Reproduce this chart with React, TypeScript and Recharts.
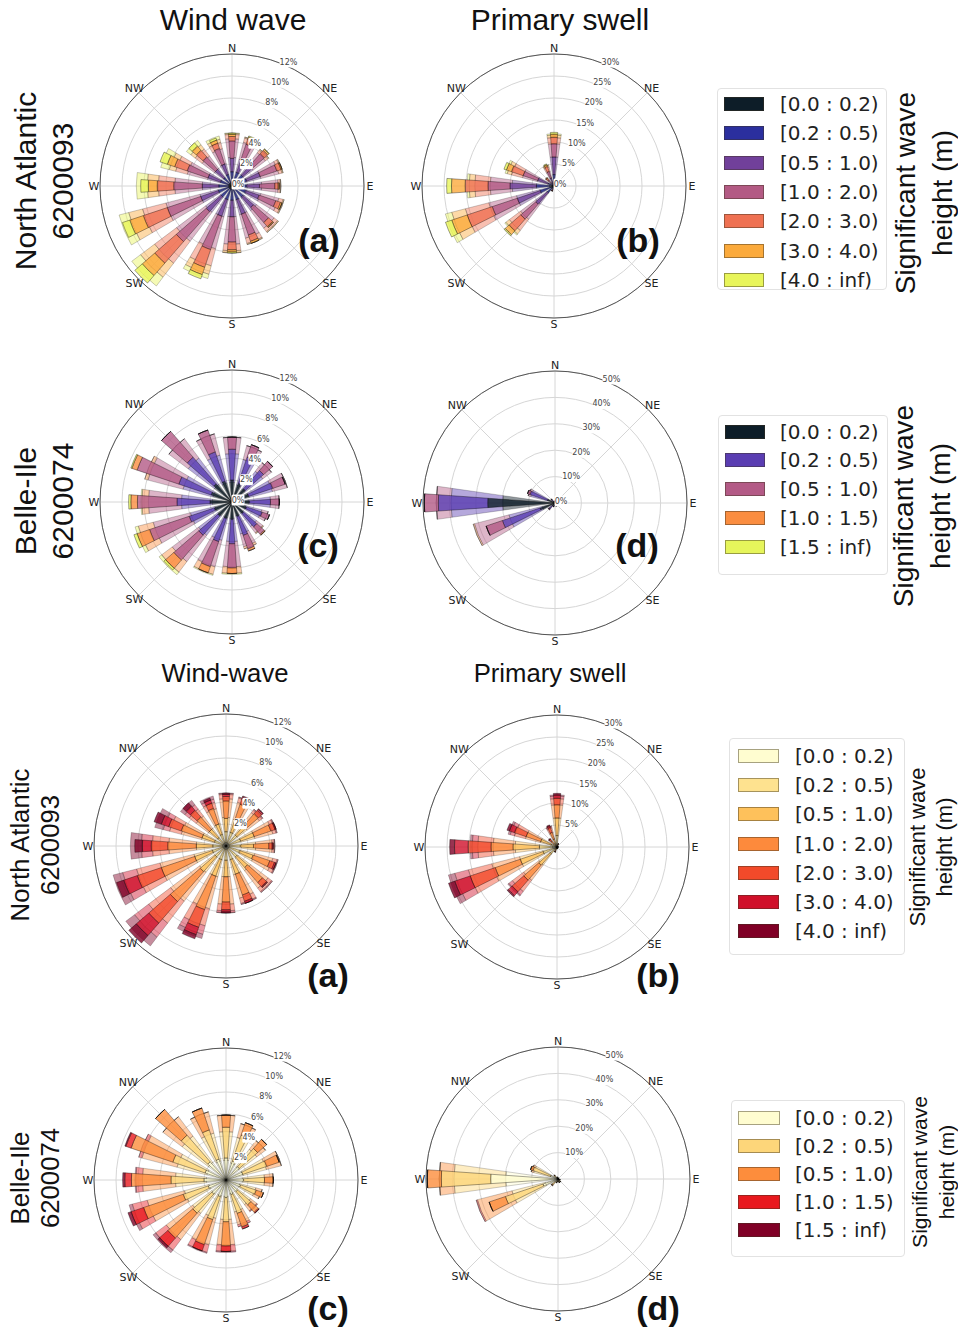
import React from "react";
import {
  PolarAngleAxis,
  PolarGrid,
  PolarRadiusAxis,
  RadialBar,
  RadialBarChart,
} from "recharts";

// 16 direction sectors, clockwise from north
const directions = ["N", "NNE", "NE", "ENE", "E", "ESE", "SE", "SSE", "S", "SSW", "SW", "WSW", "W", "WNW", "NW", "NNW"];
const compass = ["N", "NE", "E", "SE", "S", "SW", "W", "NW"];

const bins7 = ["[0.0 : 0.2)", "[0.2 : 0.5)", "[0.5 : 1.0)", "[1.0 : 2.0)", "[2.0 : 3.0)", "[3.0 : 4.0)", "[4.0 : inf)"];
const bins5 = ["[0.0 : 0.2)", "[0.2 : 0.5)", "[0.5 : 1.0)", "[1.0 : 1.5)", "[1.5 : inf)"];

const topColors7 = ["#0d1d28", "#2b2f9e", "#71409a", "#b35a84", "#ef7152", "#fbaa3c", "#e8f55a"];
const topColors5 = ["#0d1d28", "#5a3db2", "#b35a86", "#fa8d40", "#e6f55b"];
const bottomColors7 = ["#fffdd0", "#fee28f", "#fec15b", "#fd8a3c", "#f24a2a", "#d0102a", "#800026"];
const bottomColors5 = ["#fffdd0", "#fdd67a", "#fd8d3c", "#e8191e", "#800026"];

const ticksWind = [0, 2, 4, 6, 8, 10, 12];
const ticksSwellNA = [0, 5, 10, 15, 20, 25, 30];
const ticksSwellBI = [0, 10, 20, 30, 40, 50];

// frequency (%) per direction, one column per wave height bin
const windNANarrow = [
  [0.3, 1.0, 1.2, 1.6, 0.4, 0.2, 0.1],
  [0.3, 1.0, 1.2, 1.5, 0.5, 0.2, 0.1],
  [0.3, 1.0, 1.2, 1.4, 0.4, 0.15, 0.05],
  [0.3, 1.1, 1.3, 1.6, 0.4, 0.1, 0.0],
  [0.3, 1.0, 1.2, 1.4, 0.3, 0.1, 0.0],
  [0.3, 1.0, 1.3, 1.6, 0.45, 0.15, 0.0],
  [0.3, 1.0, 1.3, 1.8, 0.5, 0.1, 0.0],
  [0.3, 1.0, 1.4, 2.0, 0.6, 0.2, 0.0],
  [0.3, 1.0, 1.5, 2.3, 0.7, 0.2, 0.1],
  [0.3, 1.0, 1.6, 3.2, 1.7, 0.7, 0.4],
  [0.3, 1.0, 1.8, 3.6, 2.6, 1.5, 0.9],
  [0.3, 1.0, 1.7, 3.2, 2.3, 1.3, 0.7],
  [0.3, 0.9, 1.5, 2.6, 1.5, 0.8, 0.7],
  [0.3, 0.8, 1.2, 2.0, 1.2, 0.7, 0.7],
  [0.3, 0.7, 1.0, 1.5, 0.8, 0.5, 0.4],
  [0.3, 0.8, 1.0, 1.5, 0.5, 0.3, 0.2],
];
const windNAWide = [
  [0.3, 1.0, 1.3, 1.7, 0.4, 0.1, 0.05],
  [0.3, 1.0, 1.2, 1.6, 0.4, 0.1, 0.0],
  [0.3, 1.0, 1.1, 1.4, 0.3, 0.1, 0.0],
  [0.3, 1.1, 1.3, 1.7, 0.3, 0.1, 0.0],
  [0.3, 1.1, 1.3, 1.5, 0.2, 0.05, 0.0],
  [0.3, 1.1, 1.3, 1.7, 0.4, 0.1, 0.0],
  [0.3, 1.1, 1.4, 2.0, 0.4, 0.1, 0.0],
  [0.3, 1.0, 1.4, 2.2, 0.5, 0.1, 0.0],
  [0.3, 1.0, 1.5, 2.5, 0.6, 0.2, 0.0],
  [0.3, 1.0, 1.6, 3.0, 1.6, 0.8, 0.4],
  [0.3, 1.0, 1.7, 3.3, 2.5, 1.6, 1.0],
  [0.3, 1.0, 1.7, 3.2, 2.2, 1.3, 0.9],
  [0.3, 0.9, 1.5, 2.5, 1.5, 1.0, 1.0],
  [0.3, 0.8, 1.2, 1.9, 1.1, 0.6, 0.8],
  [0.3, 0.7, 1.0, 1.4, 0.8, 0.5, 0.5],
  [0.3, 0.8, 1.0, 1.4, 0.6, 0.3, 0.3],
];

const swellNANarrow = [
  [0.6, 2.0, 4.0, 3.0, 1.5, 0.7, 0.4],
  [0.1, 0.2, 0.2, 0.2, 0.1, 0.0, 0.0],
  [0.1, 0.1, 0.1, 0.0, 0.0, 0.0, 0.0],
  [0.1, 0.1, 0.0, 0.0, 0.0, 0.0, 0.0],
  [0.1, 0.1, 0.0, 0.0, 0.0, 0.0, 0.0],
  [0.1, 0.1, 0.0, 0.0, 0.0, 0.0, 0.0],
  [0.1, 0.1, 0.1, 0.0, 0.0, 0.0, 0.0],
  [0.1, 0.1, 0.1, 0.0, 0.0, 0.0, 0.0],
  [0.1, 0.1, 0.1, 0.1, 0.0, 0.0, 0.0],
  [0.1, 0.3, 0.4, 0.3, 0.1, 0.0, 0.0],
  [0.5, 1.5, 3.5, 4.5, 3.5, 1.2, 0.3],
  [0.8, 2.5, 5.5, 6.0, 6.0, 3.7, 1.5],
  [1.0, 3.0, 6.0, 5.0, 5.2, 3.1, 1.1],
  [0.4, 1.0, 2.5, 3.5, 2.8, 1.2, 0.6],
  [0.1, 0.3, 0.6, 0.8, 0.5, 0.2, 0.0],
  [0.2, 0.5, 1.2, 1.6, 1.2, 0.4, 0.2],
];
const swellNAWide = [
  [0.6, 2.0, 4.0, 3.0, 1.4, 0.6, 0.3],
  [0.1, 0.2, 0.2, 0.2, 0.1, 0.0, 0.0],
  [0.1, 0.1, 0.1, 0.0, 0.0, 0.0, 0.0],
  [0.1, 0.1, 0.0, 0.0, 0.0, 0.0, 0.0],
  [0.1, 0.1, 0.0, 0.0, 0.0, 0.0, 0.0],
  [0.1, 0.1, 0.0, 0.0, 0.0, 0.0, 0.0],
  [0.1, 0.1, 0.1, 0.0, 0.0, 0.0, 0.0],
  [0.1, 0.1, 0.1, 0.0, 0.0, 0.0, 0.0],
  [0.1, 0.1, 0.1, 0.1, 0.0, 0.0, 0.0],
  [0.1, 0.3, 0.4, 0.3, 0.1, 0.0, 0.0],
  [0.5, 1.5, 3.2, 4.3, 3.2, 1.0, 0.3],
  [0.8, 2.5, 5.5, 6.5, 5.5, 3.2, 1.5],
  [1.0, 3.0, 5.5, 5.0, 3.5, 1.3, 0.5],
  [0.4, 1.0, 2.5, 3.5, 2.6, 1.0, 0.5],
  [0.1, 0.3, 0.6, 0.7, 0.5, 0.2, 0.0],
  [0.2, 0.5, 1.2, 1.5, 1.1, 0.4, 0.1],
];

const windBINarrow = [
  [2.0, 2.8, 1.1, 0.0, 0.0],
  [1.8, 2.5, 1.2, 0.0, 0.0],
  [1.6, 2.2, 1.1, 0.0, 0.0],
  [1.6, 2.3, 1.2, 0.0, 0.0],
  [1.6, 1.9, 0.8, 0.0, 0.0],
  [1.4, 1.5, 0.7, 0.0, 0.0],
  [1.4, 1.6, 0.9, 0.1, 0.0],
  [1.4, 1.8, 1.3, 0.2, 0.0],
  [1.6, 2.2, 2.2, 0.5, 0.0],
  [1.6, 2.2, 2.4, 0.6, 0.0],
  [1.7, 2.3, 3.0, 1.0, 0.2],
  [1.7, 2.4, 3.8, 1.2, 0.3],
  [2.0, 3.0, 3.6, 0.6, 0.2],
  [2.0, 3.1, 4.0, 0.5, 0.1],
  [2.2, 3.2, 3.1, 0.0, 0.0],
  [2.0, 2.8, 2.1, 0.0, 0.0],
];
const windBIWide = [
  [1.8, 2.6, 1.5, 0.0, 0.0],
  [1.6, 2.4, 1.3, 0.0, 0.0],
  [1.5, 2.0, 1.0, 0.0, 0.0],
  [1.6, 2.2, 1.4, 0.0, 0.0],
  [1.5, 2.0, 0.8, 0.0, 0.0],
  [1.3, 1.5, 0.6, 0.0, 0.0],
  [1.3, 1.5, 0.7, 0.1, 0.0],
  [1.3, 1.7, 1.2, 0.2, 0.0],
  [1.5, 2.1, 2.3, 0.6, 0.1],
  [1.5, 2.1, 2.5, 0.7, 0.1],
  [1.6, 2.2, 3.0, 1.2, 0.3],
  [1.6, 2.3, 3.5, 1.4, 0.3],
  [1.8, 2.8, 3.0, 0.6, 0.1],
  [1.8, 2.8, 3.3, 0.3, 0.0],
  [2.0, 3.0, 2.2, 0.0, 0.0],
  [1.8, 2.6, 2.0, 0.0, 0.0],
];

const swellBINarrow = [
  [0.3, 0.2, 0.0, 0.0, 0.0],
  [0.2, 0.1, 0.0, 0.0, 0.0],
  [0.2, 0.1, 0.0, 0.0, 0.0],
  [0.2, 0.1, 0.0, 0.0, 0.0],
  [0.3, 0.1, 0.0, 0.0, 0.0],
  [0.5, 0.3, 0.0, 0.0, 0.0],
  [0.8, 0.6, 0.0, 0.0, 0.0],
  [0.8, 0.6, 0.0, 0.0, 0.0],
  [0.6, 0.4, 0.0, 0.0, 0.0],
  [0.8, 0.6, 0.1, 0.0, 0.0],
  [1.5, 1.5, 0.3, 0.0, 0.0],
  [6.0, 15.0, 6.5, 0.0, 0.0],
  [25.5, 18.7, 5.3, 0.0, 0.0],
  [3.0, 7.0, 1.0, 0.0, 0.0],
  [0.8, 1.0, 0.2, 0.0, 0.0],
  [0.4, 0.3, 0.0, 0.0, 0.0],
];
const swellBIWide = [
  [0.3, 0.2, 0.0, 0.0, 0.0],
  [0.2, 0.1, 0.0, 0.0, 0.0],
  [0.2, 0.1, 0.0, 0.0, 0.0],
  [0.2, 0.1, 0.0, 0.0, 0.0],
  [0.3, 0.1, 0.0, 0.0, 0.0],
  [0.5, 0.3, 0.0, 0.0, 0.0],
  [0.8, 0.5, 0.0, 0.0, 0.0],
  [0.8, 0.5, 0.0, 0.0, 0.0],
  [0.6, 0.4, 0.0, 0.0, 0.0],
  [0.8, 0.5, 0.1, 0.0, 0.0],
  [1.4, 1.4, 0.3, 0.0, 0.0],
  [5.0, 13.0, 13.5, 0.5, 0.0],
  [19.8, 19.6, 5.6, 0.0, 0.0],
  [3.0, 6.5, 1.0, 0.0, 0.0],
  [0.8, 0.9, 0.2, 0.0, 0.0],
  [0.4, 0.3, 0.0, 0.0, 0.0],
];

const SANS = "'Liberation Sans', Arial, sans-serif";
const DEJAVU = "'DejaVu Sans', sans-serif";
const SIZE = 300;
const C = SIZE / 2;
const RADIUS = 132;
const HALF_BAND = 180 / directions.length;
// recharts lays each sector out counter-clockwise from the band start, so
// start half a band clockwise of north to centre the N sector on north
const START = 90 - HALF_BAND;
const gridAngles = compass.map((_, i) => 90 - i * 45);
const RAD = Math.PI / 180;

function buildRows(values: number[][]) {
  return directions.map((dir, i) => {
    const row: Record<string, number | string> = { dir };
    values[i].forEach((v, k) => {
      row[`b${k}`] = v;
    });
    return row;
  });
}

// angle-axis ticks sit on the band start; turn them half a band to the sector centre
const AngleTick = (props: any) => {
  const { x, y, payload } = props;
  if (!compass.includes(payload.value)) return null;
  const dx = x - C;
  const dy = y - C;
  const r = Math.hypot(dx, dy);
  const a = Math.atan2(-dy, dx) + HALF_BAND * RAD;
  return (
    <text
      x={C + r * Math.cos(a)}
      y={C - r * Math.sin(a)}
      textAnchor="middle"
      dominantBaseline="central"
      fontSize={11}
      fill="#222"
      fontFamily={DEJAVU}
    >
      {payload.value}
    </text>
  );
};

const radiusTick = (showZero: boolean) => (props: any) => {
  const { x, y, payload } = props;
  if (payload.value === 0 && !showZero) return null;
  const label = `${payload.value}%`;
  const w = label.length * 5 + 3;
  const tx = x + 6;
  const ty = y - 2;
  return (
    <g>
      <rect x={tx - w / 2} y={ty - 5.5} width={w} height={11} rx={1.5} fill="#fff" />
      <text x={tx} y={ty} textAnchor="middle" dominantBaseline="central" fontSize={8} fill="#444" fontFamily={DEJAVU}>
        {label}
      </text>
    </g>
  );
};

type RoseProps = {
  cx: number;
  cy: number;
  narrow: number[][];
  wide: number[][];
  colors: string[];
  ticks: number[];
  showZero: boolean;
};

function Rose({ cx, cy, narrow, wide, colors, ticks, showZero }: RoseProps) {
  const max = ticks[ticks.length - 1];
  const keys = colors.map((_, k) => `b${k}`);
  const chartProps = {
    width: SIZE,
    height: SIZE,
    cx: C,
    cy: C,
    innerRadius: 0,
    outerRadius: RADIUS,
    layout: "centric" as const,
    startAngle: START,
    endAngle: START - 360,
    margin: { top: 0, right: 0, bottom: 0, left: 0 },
  };
  const box: React.CSSProperties = {
    position: "absolute",
    left: cx - C,
    top: cy - C,
    width: SIZE,
    height: SIZE,
  };
  return (
    <>
      <div style={box}>
        <RadialBarChart {...chartProps} data={buildRows(wide)} barCategoryGap="14%">
          <PolarGrid gridType="circle" polarAngles={gridAngles} stroke="#d6d6d6" />
          <PolarGrid gridType="circle" polarRadius={[RADIUS]} radialLines={false} stroke="#555" />
          <PolarAngleAxis type="category" dataKey="dir" scale="band" tick={false} axisLine={false} tickLine={false} />
          <PolarRadiusAxis type="number" domain={[0, max]} ticks={ticks} tick={false} axisLine={false} tickLine={false} />
          {keys.map((k, i) => (
            <RadialBar
              key={k}
              dataKey={k}
              stackId="wide"
              fill={colors[i]}
              fillOpacity={0.45}
              stroke="#000"
              strokeOpacity={0.25}
              strokeWidth={0.8}
              isAnimationActive={false}
            />
          ))}
        </RadialBarChart>
      </div>
      <div style={box}>
        <RadialBarChart {...chartProps} data={buildRows(narrow)} barCategoryGap="32%">
          <PolarAngleAxis type="category" dataKey="dir" scale="band" tick={AngleTick} tickSize={6} axisLine={false} tickLine={false} />
          {keys.map((k, i) => (
            <RadialBar
              key={k}
              dataKey={k}
              stackId="narrow"
              fill={colors[i]}
              fillOpacity={0.8}
              stroke="#000"
              strokeOpacity={0.45}
              strokeWidth={0.8}
              isAnimationActive={false}
            />
          ))}
          <PolarRadiusAxis
            type="number"
            domain={[0, max]}
            ticks={ticks}
            angle={90 - 22.5}
            tick={radiusTick(showZero)}
            axisLine={false}
            tickLine={false}
          />
        </RadialBarChart>
      </div>
    </>
  );
}

type TxtProps = {
  x: number;
  y: number;
  size: number;
  lines: string[];
  rotate?: number;
  lineHeight?: number;
  weight?: number;
};

function Txt({ x, y, size, lines, rotate = 0, lineHeight, weight = 400 }: TxtProps) {
  return (
    <div
      style={{
        position: "absolute",
        left: x,
        top: y,
        transform: `translate(-50%, -50%) rotate(${rotate}deg)`,
        fontSize: size,
        lineHeight: `${lineHeight ?? Math.round(size * 1.15)}px`,
        fontFamily: SANS,
        fontWeight: weight,
        textAlign: "center",
        whiteSpace: "nowrap",
        color: "#111",
      }}
    >
      {lines.map((l) => (
        <div key={l}>{l}</div>
      ))}
    </div>
  );
}

type LegendProps = {
  left: number;
  top: number;
  width: number;
  height: number;
  rowTop: number;
  rowGap: number;
  swatchX: number;
  swatchW: number;
  textX: number;
  labels: string[];
  colors: string[];
};

function HeightLegend({ left, top, width, height, rowTop, rowGap, swatchX, swatchW, textX, labels, colors }: LegendProps) {
  return (
    <>
      <div
        style={{
          position: "absolute",
          left,
          top,
          width,
          height,
          border: "1px solid #e2e2e2",
          borderRadius: 4,
          boxSizing: "border-box",
        }}
      />
      {labels.map((lab, i) => {
        const cy = rowTop + i * rowGap;
        return (
          <React.Fragment key={lab}>
            <div
              style={{
                position: "absolute",
                left: swatchX,
                top: cy - 7,
                width: swatchW,
                height: 14,
                background: colors[i],
                border: "1px solid rgba(60,50,30,0.45)",
                boxSizing: "border-box",
              }}
            />
            <div
              style={{
                position: "absolute",
                left: textX,
                top: cy - 12,
                height: 24,
                lineHeight: "24px",
                fontSize: 20,
                fontFamily: DEJAVU,
                color: "#222",
                whiteSpace: "nowrap",
              }}
            >
              {lab}
            </div>
          </React.Fragment>
        );
      })}
    </>
  );
}

export default function App() {
  return (
    <div
      style={{
        position: "absolute",
        left: 0,
        top: 0,
        width: 958,
        height: 1328,
        background: "#fff",
        overflow: "hidden",
      }}
    >
      {/* upper block */}
      <Txt x={233} y={19} size={30} lines={["Wind wave"]} />
      <Txt x={560} y={19} size={30} lines={["Primary swell"]} />
      <Txt x={43.5} y={181} size={30} lineHeight={37} rotate={-90} lines={["North Atlantic", "6200093"]} />
      <Txt x={43.5} y={501} size={30} lineHeight={37} rotate={-90} lines={["Belle-Ile", "6200074"]} />

      <Rose cx={232} cy={186} narrow={windNANarrow} wide={windNAWide} colors={topColors7} ticks={ticksWind} showZero />
      <Rose cx={554} cy={186} narrow={swellNANarrow} wide={swellNAWide} colors={topColors7} ticks={ticksSwellNA} showZero />
      <Rose cx={232} cy={502} narrow={windBINarrow} wide={windBIWide} colors={topColors5} ticks={ticksWind} showZero />
      <Rose cx={555} cy={503} narrow={swellBINarrow} wide={swellBIWide} colors={topColors5} ticks={ticksSwellBI} showZero />

      <Txt x={319} y={240} size={34} weight={700} lines={["(a)"]} />
      <Txt x={638} y={240} size={34} weight={700} lines={["(b)"]} />
      <Txt x={318} y={545} size={34} weight={700} lines={["(c)"]} />
      <Txt x={637} y={545} size={34} weight={700} lines={["(d)"]} />

      <HeightLegend left={717} top={88} width={170} height={202} rowTop={104} rowGap={29.35} swatchX={724} swatchW={40} textX={780} labels={bins7} colors={topColors7} />
      <Txt x={923.5} y={193} size={28} lineHeight={37} rotate={-90} lines={["Significant wave", "height (m)"]} />
      <HeightLegend left={718} top={415} width={170} height={160} rowTop={431.7} rowGap={28.75} swatchX={725} swatchW={40} textX={780} labels={bins5} colors={topColors5} />
      <Txt x={921.5} y={506} size={28} lineHeight={37} rotate={-90} lines={["Significant wave", "height (m)"]} />

      {/* lower block */}
      <Txt x={225} y={673} size={25.7} lines={["Wind-wave"]} />
      <Txt x={550} y={673} size={25.7} lines={["Primary swell"]} />
      <Txt x={35} y={845} size={25.7} lineHeight={30} rotate={-90} lines={["North Atlantic", "6200093"]} />
      <Txt x={35} y={1178} size={25.7} lineHeight={30} rotate={-90} lines={["Belle-Ile", "6200074"]} />

      <Rose cx={226} cy={846} narrow={windNANarrow} wide={windNAWide} colors={bottomColors7} ticks={ticksWind} showZero={false} />
      <Rose cx={557} cy={847} narrow={swellNANarrow} wide={swellNAWide} colors={bottomColors7} ticks={ticksSwellNA} showZero={false} />
      <Rose cx={226} cy={1180} narrow={windBINarrow} wide={windBIWide} colors={bottomColors5} ticks={ticksWind} showZero={false} />
      <Rose cx={558} cy={1179} narrow={swellBINarrow} wide={swellBIWide} colors={bottomColors5} ticks={ticksSwellBI} showZero={false} />

      <Txt x={328} y={975} size={34} weight={700} lines={["(a)"]} />
      <Txt x={658} y={975} size={34} weight={700} lines={["(b)"]} />
      <Txt x={328} y={1308} size={34} weight={700} lines={["(c)"]} />
      <Txt x={658} y={1308} size={34} weight={700} lines={["(d)"]} />

      <HeightLegend left={729} top={738} width={176} height={217} rowTop={756} rowGap={29.2} swatchX={738} swatchW={41} textX={795} labels={bins7} colors={bottomColors7} />
      <Txt x={931} y={847} size={22} lineHeight={27} rotate={-90} lines={["Significant wave", "height (m)"]} />
      <HeightLegend left={731} top={1100} width={174} height={157} rowTop={1118.3} rowGap={28} swatchX={738} swatchW={42} textX={795} labels={bins5} colors={bottomColors5} />
      <Txt x={933} y={1172} size={21} lineHeight={27} rotate={-90} lines={["Significant wave", "height (m)"]} />
    </div>
  );
}
